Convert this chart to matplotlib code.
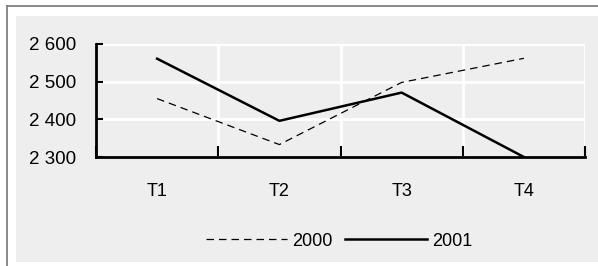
import numpy as np
import matplotlib.pyplot as plt
from matplotlib.patches import Rectangle
from matplotlib.lines import Line2D

categories = ["T1", "T2", "T3", "T4"]
values_2000 = [2455, 2333, 2498, 2562]
values_2001 = [2561, 2396, 2471, 2300]
yticks = [2300, 2400, 2500, 2600]
ytick_labels = ["2 300", "2 400", "2 500", "2 600"]

plt.rcParams['font.family'] = ['Liberation Sans', 'DejaVu Sans']

W, H = 598, 266
fig = plt.figure(figsize=(W / 100, H / 100), dpi=100)
fig.patch.set_facecolor("white")

# gray panel and outer frame line
fig.patches.append(Rectangle((16 / W, 4 / H), 1 - 16 / W, (262 - 16) / H,
                             transform=fig.transFigure, facecolor="#eeeeee",
                             edgecolor="none", zorder=-10))
fig.add_artist(Line2D([6.5 / W, 6.5 / W], [0, 1 - 6 / H], transform=fig.transFigure,
                      color="#808080", lw=1.3, zorder=-5))
fig.add_artist(Line2D([6.5 / W, 1], [1 - 6 / H, 1 - 6 / H], transform=fig.transFigure,
                      color="#808080", lw=1.3, zorder=-5))

ax = fig.add_axes([96 / W, (H - 157) / H, 489 / W, 113 / H])
ax.set_facecolor("#eeeeee")
x = np.arange(len(categories))

ax.plot(x, values_2000, color="black", lw=0.9, ls=(0, (6, 4)), label="2000")
ax.plot(x, values_2001, color="black", lw=1.8, label="2001")

ax.set_xlim(-0.5, len(categories) - 0.5)
ax.set_ylim(2300, 2600)
ax.set_yticks(yticks)
ax.set_yticklabels(ytick_labels, fontsize=13.5)
ax.set_xticks(x)
ax.set_xticklabels(categories, fontsize=13)
ax.set_xticks(np.arange(-0.5, len(categories)), minor=True)

ax.tick_params(axis="x", which="major", length=0, pad=19)
ax.tick_params(axis="x", which="minor", direction="in", length=8, width=1.5)
ax.tick_params(axis="y", direction="in", length=5, width=1.5, pad=14)

ax.grid(True, axis="y", color="white", lw=2)
ax.grid(True, axis="x", which="minor", color="white", lw=2)
ax.set_axisbelow(True)

for s in ["top", "right"]:
    ax.spines[s].set_visible(False)
ax.spines["left"].set_linewidth(2)
ax.spines["bottom"].set_linewidth(2)

leg = fig.legend(loc="center", bbox_to_anchor=(339 / W, 1 - 241 / H), ncol=2,
                 frameon=False, fontsize=13, handlelength=4.5, handletextpad=0.28,
                 columnspacing=0.7)

fig.savefig("out.png", dpi=100)
